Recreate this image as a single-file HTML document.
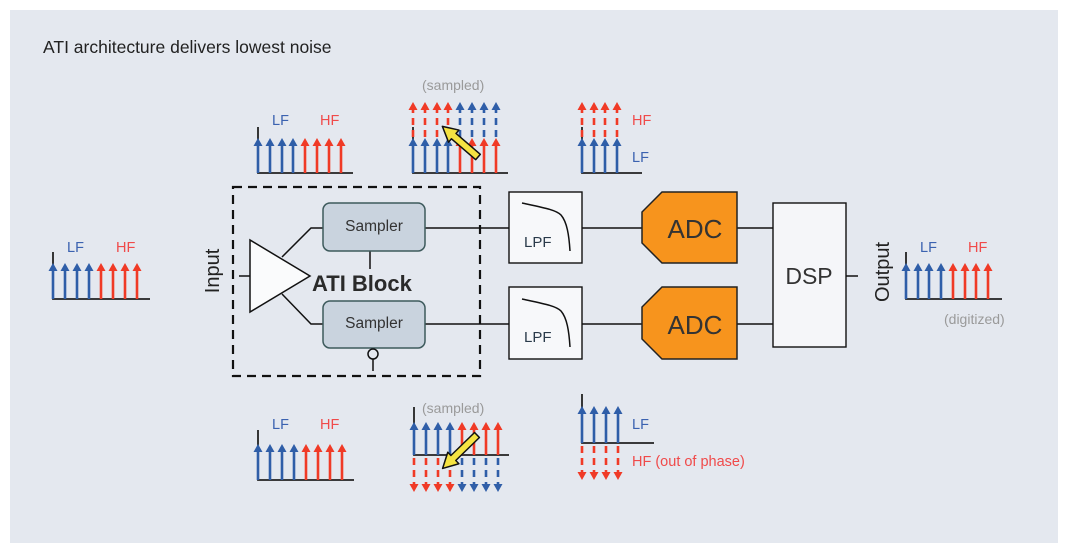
<!DOCTYPE html>
<html><head><meta charset="utf-8"><style>
html,body{margin:0;padding:0;background:#fff;}
svg{display:block;font-family:"Liberation Sans",Arial,sans-serif;}
</style></head><body>
<svg width="1066" height="552" viewBox="0 0 1066 552" xmlns="http://www.w3.org/2000/svg">
<rect x="10" y="10" width="1048" height="533" fill="#e4e8ef"/>
<text x="43" y="53" font-size="17.5" fill="#222">ATI architecture delivers lowest noise</text>

<!-- axes (drawn first, arrows overlay) -->
<g stroke="#222" stroke-width="1.8" fill="none">
<path d="M53 252V299H150"/>
<path d="M258 127V173H353"/>
<path d="M413 127V173H508"/>
<path d="M582 127V173H642"/>
<path d="M258 430V480H354"/>
<path d="M414 407V455H509"/>
<path d="M582 394V443H654"/>
<path d="M906 252V299H1002"/>
</g>

<g stroke-width="2.6" fill="none">
<path stroke="#2f5ea8" d="M53 299V270M65 299V270M77 299V270M89 299V270"/>
<path stroke="#f03a26" d="M101 299V270M113 299V270M125 299V270M137 299V270"/>
<path stroke="#2f5ea8" d="M258 173V145M270 173V145M282 173V145M293 173V145"/>
<path stroke="#f03a26" d="M305 173V145M317 173V145M329 173V145M341 173V145"/>
<path stroke="#2f5ea8" d="M413 173V145M425 173V145M437 173V145M448 173V145"/>
<path stroke="#f03a26" d="M460 173V145M472 173V145M484 173V145M496 173V145"/>
<path stroke="#f03a26" stroke-dasharray="7 5" d="M413 137V109M425 137V109M437 137V109M448 137V109"/>
<path stroke="#2f5ea8" stroke-dasharray="7 5" d="M460 137V109M472 137V109M484 137V109M496 137V109"/>
<path stroke="#2f5ea8" d="M582 173V145M594 173V145M605 173V145M617 173V145"/>
<path stroke="#f03a26" stroke-dasharray="7 5" d="M582 137V109M594 137V109M605 137V109M617 137V109"/>
<path stroke="#2f5ea8" d="M258 480V451M270 480V451M282 480V451M294 480V451"/>
<path stroke="#f03a26" d="M306 480V451M318 480V451M330 480V451M342 480V451"/>
<path stroke="#2f5ea8" d="M414 455V429M426 455V429M438 455V429M450 455V429"/>
<path stroke="#f03a26" d="M462 455V429M474 455V429M486 455V429M498 455V429"/>
<path stroke="#f03a26" stroke-dasharray="7 5" d="M414 458V484M426 458V484M438 458V484M450 458V484"/>
<path stroke="#2f5ea8" stroke-dasharray="7 5" d="M462 458V484M474 458V484M486 458V484M498 458V484"/>
<path stroke="#2f5ea8" d="M582 443V413M594 443V413M606 443V413M618 443V413"/>
<path stroke="#f03a26" stroke-dasharray="7 5" d="M582 446V472M594 446V472M606 446V472M618 446V472"/>
<path stroke="#2f5ea8" d="M906 299V270M918 299V270M929 299V270M941 299V270"/>
<path stroke="#f03a26" d="M953 299V270M965 299V270M976 299V270M988 299V270"/>
</g>

<defs>
<polygon id="u" points="-4.5,8 4.5,8 0,0"/>
<polygon id="d" points="-4.5,0 4.5,0 0,8"/>
</defs>
<g fill="#2f5ea8">
<use href="#u" x="53" y="263"/><use href="#u" x="65" y="263"/><use href="#u" x="77" y="263"/><use href="#u" x="89" y="263"/>
<use href="#u" x="258" y="138"/><use href="#u" x="270" y="138"/><use href="#u" x="282" y="138"/><use href="#u" x="293" y="138"/>
<use href="#u" x="413" y="138"/><use href="#u" x="425" y="138"/><use href="#u" x="437" y="138"/><use href="#u" x="448" y="138"/>
<use href="#u" x="460" y="102"/><use href="#u" x="472" y="102"/><use href="#u" x="484" y="102"/><use href="#u" x="496" y="102"/>
<use href="#u" x="582" y="138"/><use href="#u" x="594" y="138"/><use href="#u" x="605" y="138"/><use href="#u" x="617" y="138"/>
<use href="#u" x="258" y="444"/><use href="#u" x="270" y="444"/><use href="#u" x="282" y="444"/><use href="#u" x="294" y="444"/>
<use href="#u" x="414" y="422"/><use href="#u" x="426" y="422"/><use href="#u" x="438" y="422"/><use href="#u" x="450" y="422"/>
<use href="#d" x="462" y="484"/><use href="#d" x="474" y="484"/><use href="#d" x="486" y="484"/><use href="#d" x="498" y="484"/>
<use href="#u" x="582" y="406"/><use href="#u" x="594" y="406"/><use href="#u" x="606" y="406"/><use href="#u" x="618" y="406"/>
<use href="#u" x="906" y="263"/><use href="#u" x="918" y="263"/><use href="#u" x="929" y="263"/><use href="#u" x="941" y="263"/>
</g>
<g fill="#f03a26">
<use href="#u" x="101" y="263"/><use href="#u" x="113" y="263"/><use href="#u" x="125" y="263"/><use href="#u" x="137" y="263"/>
<use href="#u" x="305" y="138"/><use href="#u" x="317" y="138"/><use href="#u" x="329" y="138"/><use href="#u" x="341" y="138"/>
<use href="#u" x="460" y="138"/><use href="#u" x="472" y="138"/><use href="#u" x="484" y="138"/><use href="#u" x="496" y="138"/>
<use href="#u" x="413" y="102"/><use href="#u" x="425" y="102"/><use href="#u" x="437" y="102"/><use href="#u" x="448" y="102"/>
<use href="#u" x="582" y="102"/><use href="#u" x="594" y="102"/><use href="#u" x="605" y="102"/><use href="#u" x="617" y="102"/>
<use href="#u" x="306" y="444"/><use href="#u" x="318" y="444"/><use href="#u" x="330" y="444"/><use href="#u" x="342" y="444"/>
<use href="#u" x="462" y="422"/><use href="#u" x="474" y="422"/><use href="#u" x="486" y="422"/><use href="#u" x="498" y="422"/>
<use href="#d" x="414" y="484"/><use href="#d" x="426" y="484"/><use href="#d" x="438" y="484"/><use href="#d" x="450" y="484"/>
<use href="#d" x="582" y="472"/><use href="#d" x="594" y="472"/><use href="#d" x="606" y="472"/><use href="#d" x="618" y="472"/>
<use href="#u" x="953" y="263"/><use href="#u" x="965" y="263"/><use href="#u" x="976" y="263"/><use href="#u" x="988" y="263"/>
</g>

<polygon transform="translate(478,157) rotate(220.7)" points="0,-3.5 32,-3.5 32,-8 47,0 32,8 32,3.5 0,3.5" fill="#f5e342" stroke="#111" stroke-width="1.5" stroke-linejoin="round"/>
<polygon transform="translate(477,435) rotate(135.8)" points="0,-3.5 33,-3.5 33,-8 48,0 33,8 33,3.5 0,3.5" fill="#f5e342" stroke="#111" stroke-width="1.5" stroke-linejoin="round"/>

<g font-size="14.5">
<text x="67" y="252" fill="#3b62b0">LF</text><text x="116" y="252" fill="#f04a4a">HF</text>
<text x="272" y="125" fill="#3b62b0">LF</text><text x="320" y="125" fill="#f04a4a">HF</text>
<text x="632" y="125" fill="#f04a4a">HF</text><text x="632" y="162" fill="#3b62b0">LF</text>
<text x="272" y="429" fill="#3b62b0">LF</text><text x="320" y="429" fill="#f04a4a">HF</text>
<text x="632" y="429" fill="#3b62b0">LF</text><text x="632" y="466" fill="#f04a4a">HF (out of phase)</text>
<text x="920" y="252" fill="#3b62b0">LF</text><text x="968" y="252" fill="#f04a4a">HF</text>
</g>
<g font-size="14" fill="#9a9a9a">
<text x="422" y="90">(sampled)</text>
<text x="422" y="413">(sampled)</text>
<text x="944" y="324">(digitized)</text>
</g>

<rect x="233" y="187" width="247" height="189" fill="none" stroke="#111" stroke-width="2.2" stroke-dasharray="9 6"/>
<text transform="translate(219,271) rotate(-90)" font-size="20" fill="#222" text-anchor="middle">Input</text>
<g stroke="#111" stroke-width="1.5" fill="none">
<path d="M239 276H250"/>
<path d="M282 257L311 228H323"/>
<path d="M282 294L311 324H323"/>
<path d="M370 251V269"/>
<path d="M373 359V371"/>
<path d="M425 228H510M425 324H510"/>
<path d="M582 228H642M582 324H642"/>
<path d="M737 228H774M737 324H774"/>
<path d="M846 276H858"/>
</g>
<polygon points="250,240 250,312 310,276" fill="#fafbfc" stroke="#111" stroke-width="1.5"/>
<rect x="323" y="203" width="102" height="48" rx="7" fill="#c9d3de" stroke="#3d5a5c" stroke-width="1.5"/>
<rect x="323" y="301" width="102" height="47" rx="7" fill="#c9d3de" stroke="#3d5a5c" stroke-width="1.5"/>
<text x="374" y="231" font-size="15.5" fill="#333" text-anchor="middle">Sampler</text>
<text x="374" y="328" font-size="15.5" fill="#333" text-anchor="middle">Sampler</text>
<circle cx="373" cy="354" r="5" fill="#e4e8ef" stroke="#111" stroke-width="1.5"/>
<text x="312" y="291" font-size="22" font-weight="bold" fill="#2a2a2a">ATI Block</text>

<g stroke="#111" stroke-width="1.4">
<rect x="509" y="192" width="73" height="71" fill="#f7f8fa"/>
<rect x="509" y="287" width="73" height="72" fill="#f7f8fa"/>
</g>
<g stroke="#111" stroke-width="1.5" fill="none">
<path d="M522 203C545 208 556 210 561 215C567 222 569 235 570 251"/>
<path d="M522 299C545 304 556 306 561 311C567 318 569 331 570 347"/>
</g>
<text x="524" y="247" font-size="15" fill="#2a3a4a">LPF</text>
<text x="524" y="342" font-size="15" fill="#2a3a4a">LPF</text>

<polygon points="662,192 737,192 737,263 662,263 642,243 642,212" fill="#f7941d" stroke="#222" stroke-width="1.5"/>
<polygon points="662,287 737,287 737,359 662,359 642,339 642,307" fill="#f7941d" stroke="#222" stroke-width="1.5"/>
<text x="695" y="238" font-size="26" fill="#333" text-anchor="middle">ADC</text>
<text x="695" y="334" font-size="26" fill="#333" text-anchor="middle">ADC</text>

<rect x="773" y="203" width="73" height="144" fill="#f5f6f9" stroke="#111" stroke-width="1.4"/>
<text x="809" y="284" font-size="23" fill="#333" text-anchor="middle">DSP</text>
<text transform="translate(889,272) rotate(-90)" font-size="20" fill="#222" text-anchor="middle">Output</text>
</svg>
</body></html>
